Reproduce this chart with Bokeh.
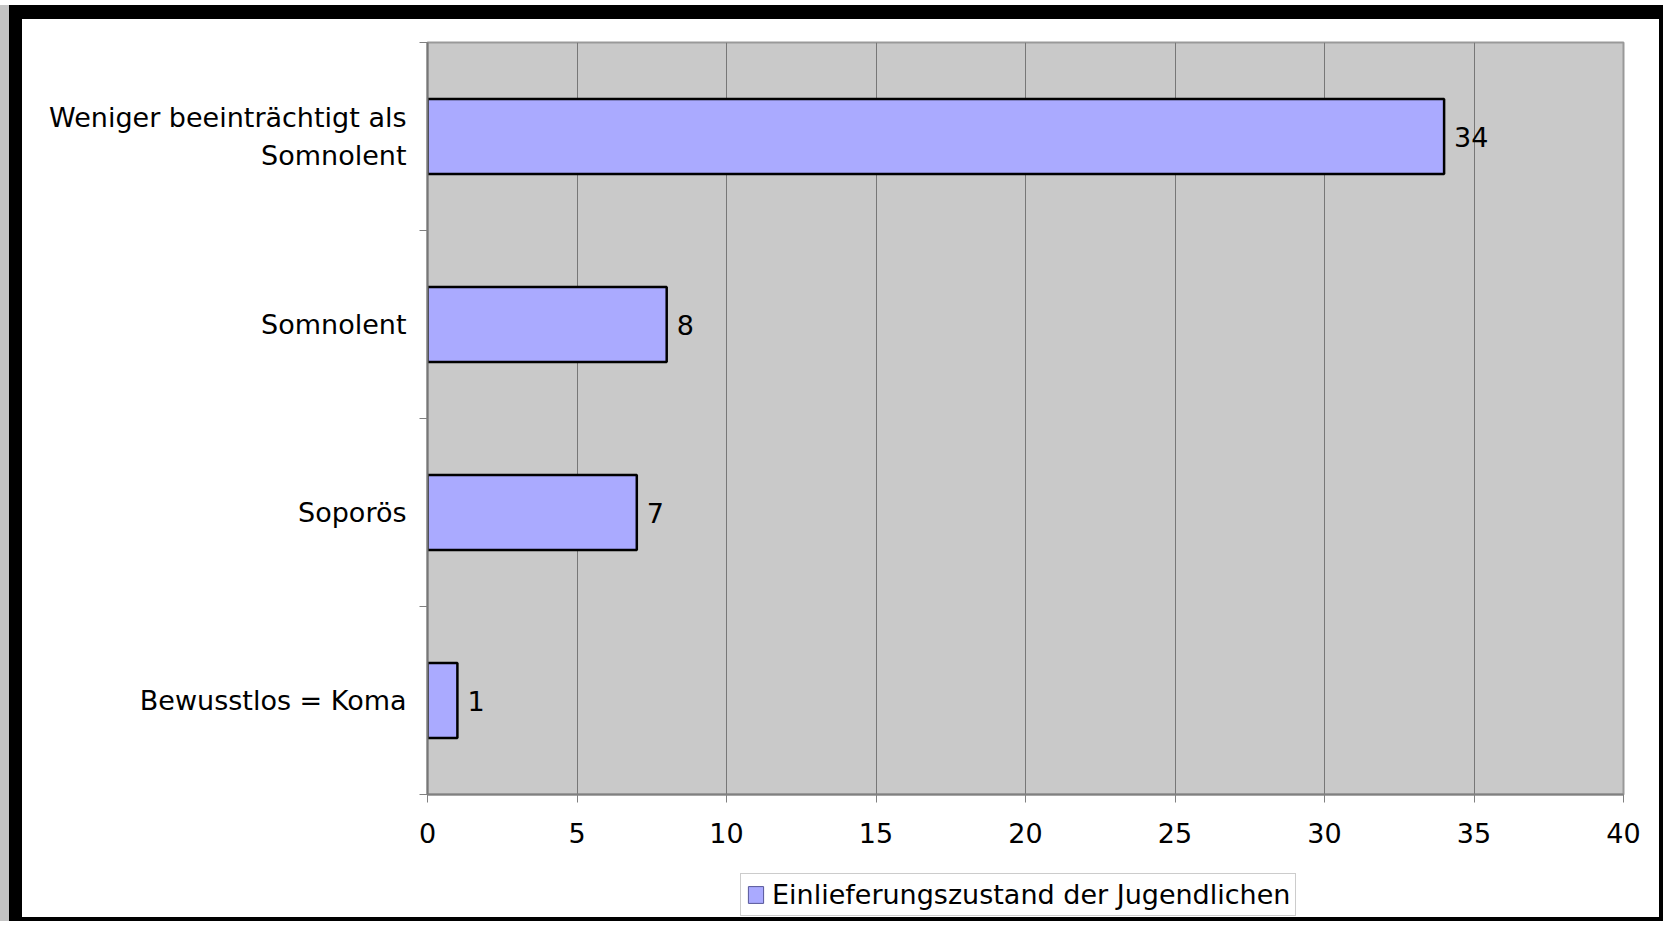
from bokeh.plotting import figure
from bokeh.layouts import column
from bokeh.models import (Range1d, FixedTicker, ColumnDataSource, LabelSet,
                          Legend, LegendItem)
from bokeh.core.properties import value
from bokeh.embed import file_html
from bokeh.resources import INLINE

# ---- data ----
categories = ["Bewusstlos = Koma", "Soporös", "Somnolent",
              "Weniger beeinträchtigt als\nSomnolent"]
values = [1, 7, 8, 34]
series_name = "Einlieferungszustand der Jugendlichen"
x_ticks = [0, 5, 10, 15, 20, 25, 30, 35, 40]

FONT = "DejaVu Sans"
FS = "27px"
BAR_FILL = "#aaaaff"

positions = [i + 0.5 for i in range(len(categories))]
boundaries = list(range(len(categories) + 1))
src = ColumnDataSource(dict(y=positions, v=values, lab=[str(v) for v in values]))

# ---------------- main chart ----------------
p = figure(width=1637, height=847,
           x_range=Range1d(x_ticks[0], x_ticks[-1]),
           y_range=Range1d(0, len(categories)),
           output_backend="svg", toolbar_location=None,
           min_border_left=405, min_border_right=36,
           min_border_top=23, min_border_bottom=72)
p.background_fill_color = "#c9c9c9"
p.border_fill_color = "white"
p.outline_line_color = "#999999"
p.outline_line_width = 2

r = p.hbar(y="y", right="v", left=0, height=0.4, source=src,
           fill_color=BAR_FILL, line_color="black", line_width=2.5)

labels = LabelSet(x="v", y="y", text="lab", source=src, x_offset=10,
                  text_baseline="middle", text_align="left",
                  text_font=value(FONT), text_font_size=FS, text_color="black")
p.add_layout(labels)

# x axis
p.xaxis.ticker = FixedTicker(ticks=x_ticks)
p.xaxis.axis_line_color = "#808080"
p.xaxis.axis_line_width = 2
p.xaxis.major_tick_line_color = "#808080"
p.xaxis.major_tick_out = 8
p.xaxis.major_tick_in = 0
p.xaxis.minor_tick_out = 0
p.xaxis.minor_tick_in = 0
p.xaxis.major_label_text_font = FONT
p.xaxis.major_label_text_font_size = FS
p.xaxis.major_label_text_color = "black"
p.xaxis.major_label_standoff = 20

# y axis
p.yaxis.ticker = FixedTicker(ticks=positions, minor_ticks=boundaries)
p.yaxis.major_label_overrides = {pos: cat for pos, cat in zip(positions, categories)}
p.yaxis.axis_line_color = "#777777"
p.yaxis.axis_line_width = 2
p.yaxis.major_tick_out = 0
p.yaxis.major_tick_in = 0
p.yaxis.minor_tick_out = 8
p.yaxis.minor_tick_in = 0
p.yaxis.minor_tick_line_color = "#808080"
p.yaxis.major_label_text_font = FONT
p.yaxis.major_label_text_font_size = FS
p.yaxis.major_label_text_color = "black"
p.yaxis.major_label_standoff = 13

p.ygrid.visible = False
p.xgrid.grid_line_color = "#777777"
p.xgrid.grid_line_width = 1

# ---------------- legend strip ----------------
pl = figure(width=1637, height=51, x_range=Range1d(-10, -9), y_range=Range1d(100, 101),
            x_axis_type=None, y_axis_type=None,
            output_backend="svg", toolbar_location=None,
            min_border=0, min_border_left=0, min_border_right=0,
            min_border_top=0, min_border_bottom=0)
pl.background_fill_color = "white"
pl.border_fill_color = "white"
pl.outline_line_color = None
pl.grid.visible = False
rl = pl.hbar(y="y", right="v", left=0, height=0.4, source=src,
             fill_color=BAR_FILL, line_color="#555599", line_width=1)

legend = Legend(items=[LegendItem(label=series_name, renderers=[rl])],
                location=(313, 1), orientation="vertical",
                padding=5, margin=0, spacing=0,
                glyph_width=19, glyph_height=21, label_standoff=7,
                label_height=31,
                label_text_font=FONT, label_text_font_size=FS,
                label_text_color="black",
                border_line_color="#999999", border_line_width=1,
                background_fill_color="white", background_fill_alpha=1)
pl.add_layout(legend)

layout = column(p, pl, spacing=0)
layout.margin = (5, 0, 0, 9)
layout.styles = {"border-style": "solid", "border-color": "black",
                 "border-width": "14px 4px 4px 13px",
                 "box-shadow": "-9px 0 0 0 #c4c4c4",
                 "background-color": "white"}

open("out.html", "w").write(file_html(layout, INLINE))
